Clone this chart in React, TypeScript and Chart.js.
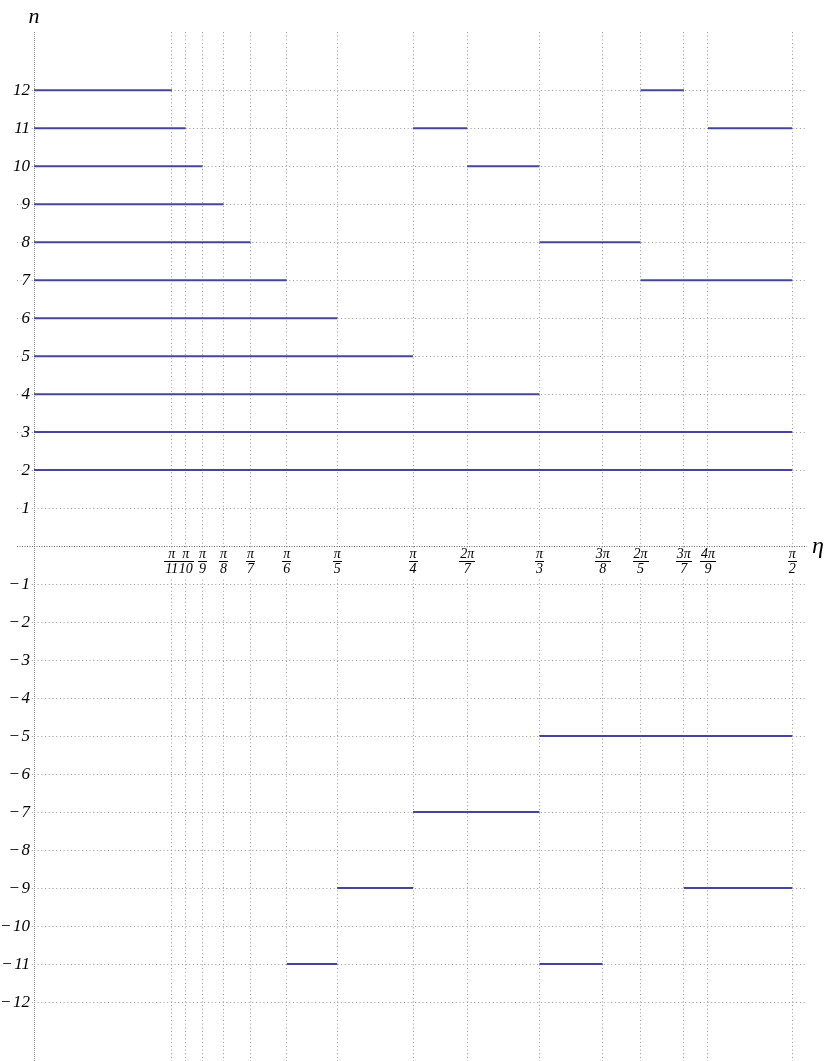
import React, { useEffect, useRef } from 'react';
import { Chart, registerables } from 'chart.js';

Chart.register(...registerables);

const PI = Math.PI;

// x tick positions as fractions of π
const xTickNumerators = [1, 1, 1, 1, 1, 1, 1, 1, 2, 1, 3, 2, 3, 4, 1];
const xTickDenominators = [11, 10, 9, 8, 7, 6, 5, 4, 7, 3, 8, 5, 7, 9, 2];

// y ticks (0 is the η axis itself, no label)
const yTickValues = [-12, -11, -10, -9, -8, -7, -6, -5, -4, -3, -2, -1, 0, 1, 2, 3, 4, 5, 6, 7, 8, 9, 10, 11, 12];

// horizontal segments: level n, from/to in units of π
const segmentN = [12, 12, 11, 11, 11, 10, 10, 9, 8, 8, 7, 7, 6, 5, 4, 3, 2, -5, -7, -9, -9, -11, -11];
const segmentStart = [0, 2 / 5, 0, 1 / 4, 4 / 9, 0, 2 / 7, 0, 0, 1 / 3, 0, 2 / 5, 0, 0, 0, 0, 0, 1 / 3, 1 / 4, 1 / 5, 3 / 7, 1 / 6, 1 / 3];
const segmentEnd = [1 / 11, 3 / 7, 1 / 10, 2 / 7, 1 / 2, 1 / 9, 1 / 3, 1 / 8, 1 / 7, 2 / 5, 1 / 6, 1 / 2, 1 / 5, 1 / 4, 1 / 3, 1 / 2, 1 / 2, 1 / 2, 1 / 3, 1 / 4, 1 / 2, 1 / 5, 3 / 8];

const LINE_COLOR = '#45459c';
const GRID_COLOR = '#999999';
const AXIS_COLOR = '#666666';
const SERIF = '"Liberation Serif", "Times New Roman", serif';

export default function App() {
  const ref = useRef<HTMLCanvasElement>(null);

  useEffect(() => {
    document.body.style.margin = '0';
    const canvas = ref.current;
    if (!canvas) return;

    const xTickValues = [0, ...xTickNumerators.map((n, i) => (n / xTickDenominators[i]) * PI)];

    const datasets = segmentN.map((n, i) => ({
      data: [
        { x: segmentStart[i] * PI, y: n },
        { x: segmentEnd[i] * PI, y: n },
      ],
      borderColor: LINE_COLOR,
      backgroundColor: LINE_COLOR,
      borderWidth: 2,
      pointRadius: 0,
      showLine: true,
      fill: false,
      borderCapStyle: 'butt' as const,
    }));

    const fractionPlugin = {
      id: 'fractionLabels',
      afterDraw(chart: any) {
        const { ctx } = chart;
        const xs = chart.scales.x;
        const ys = chart.scales.y;
        const y0 = ys.getPixelForValue(0);
        ctx.save();
        ctx.font = `italic 14px ${SERIF}`;
        const items = xTickNumerators.map((num, i) => {
          const den = xTickDenominators[i];
          const px = xs.getPixelForValue((num / den) * PI);
          const numText = num === 1 ? 'π' : num + 'π';
          const denText = String(den);
          const w = Math.max(ctx.measureText(numText).width, ctx.measureText(denText).width) + 2;
          return { px, numText, denText, w };
        });
        ctx.fillStyle = '#ffffff';
        items.forEach((it) => {
          ctx.fillRect(it.px - it.w / 2, y0 + 3, it.w, 29);
        });
        ctx.fillStyle = '#000000';
        ctx.textAlign = 'center';
        ctx.textBaseline = 'alphabetic';
        items.forEach((it) => {
          ctx.fillText(it.numText, it.px, y0 + 12);
          ctx.fillRect(Math.round(it.px - it.w / 2), Math.round(y0 + 15), Math.round(it.w), 1);
          ctx.fillText(it.denText, it.px, y0 + 27);
        });
        // axis titles
        ctx.font = `italic 22px ${SERIF}`;
        ctx.textAlign = 'center';
        ctx.fillText('n', xs.getPixelForValue(0), 23);
        ctx.font = `italic 24px ${SERIF}`;
        ctx.textAlign = 'left';
        ctx.fillText('η', xs.right + 5, y0 + 7);
        ctx.restore();
      },
    };

    const chart = new Chart(canvas, {
      type: 'scatter',
      data: { datasets: datasets as any },
      options: {
        responsive: false,
        animation: false,
        events: [],
        layout: { padding: { top: 32, right: 23, bottom: 0, left: 0 } },
        plugins: {
          legend: { display: false },
          tooltip: { enabled: false },
          title: { display: false },
        },
        scales: {
          x: {
            type: 'linear',
            position: 'bottom',
            min: 0,
            max: 1.6015,
            afterBuildTicks: (s: any) => {
              s.ticks = xTickValues.map((v) => ({ value: v }));
            },
            afterFit: (s: any) => {
              s.height = 0;
              s.paddingLeft = 0;
              s.paddingRight = 0;
            },
            ticks: { display: false, autoSkip: false },
            grid: {
              drawTicks: false,
              lineWidth: 1,
              color: (c: any) => (c.tick && c.tick.value === 0 ? '#8a8a8a' : GRID_COLOR),
            },
            border: {
              display: false,
              dash: (c: any) => (c.tick && c.tick.value === 0 ? [1, 1] : [1, 2.7]),
            },
          },
          y: {
            type: 'linear',
            position: 'left',
            min: -13.55,
            max: 13.53,
            afterBuildTicks: (s: any) => {
              s.ticks = yTickValues.map((v) => ({ value: v }));
            },
            afterFit: (s: any) => {
              s.width = 34;
              s.paddingTop = 0;
              s.paddingBottom = 0;
            },
            ticks: {
              autoSkip: false,
              padding: -13,
              color: '#000000',
              font: { family: SERIF, style: 'italic', size: 17 },
              showLabelBackdrop: true,
              backdropColor: '#ffffff',
              backdropPadding: 0,
              callback: (v: any) => {
                const n = Number(v);
                if (n === 0) return '';
                return n < 0 ? '\u2212\u200A' + Math.abs(n) : String(n);
              },
            },
            grid: {
              drawTicks: true,
              tickLength: 17,
              lineWidth: 1,
              tickWidth: 1,
              color: (c: any) => (c.tick && c.tick.value === 0 ? AXIS_COLOR : GRID_COLOR),
              tickColor: (c: any) => (c.tick && c.tick.value === 0 ? AXIS_COLOR : GRID_COLOR),
              tickBorderDash: (c: any) => (c.tick && c.tick.value === 0 ? [1, 1.5] : [1, 2.7]),
            },
            border: {
              display: false,
              dash: (c: any) => (c.tick && c.tick.value === 0 ? [1, 1.5] : [1, 2.7]),
            },
          },
        },
      } as any,
      plugins: [fractionPlugin],
    });

    return () => {
      chart.destroy();
    };
  }, []);

  return (
    <div style={{ width: 830, height: 1061, position: 'relative' }}>
      <canvas ref={ref} width={830} height={1061} style={{ display: 'block' }} />
    </div>
  );
}
